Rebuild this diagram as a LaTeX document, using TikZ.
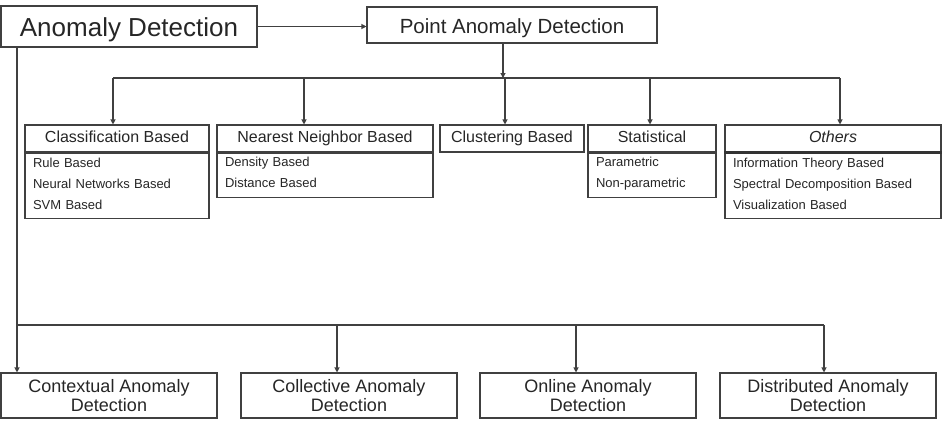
\documentclass[tikz,border=0pt]{standalone}
\usepackage{fontspec}
\setmainfont{Liberation Sans}
\usetikzlibrary{arrows.meta,calc}
\begin{document}
\begin{tikzpicture}[x=1pt,y=-1pt,
  ln/.style={draw=black!75, line width=1.1pt},
  box/.style={ln, rectangle, fill=white, inner sep=0pt, text=black!85, align=center},
  arr/.style={draw=black!75, line width=1.1pt, -{Triangle[length=5pt,width=5pt]}},
  hd/.style={box, font=\fontsize{16}{18}\selectfont, minimum height=27pt, text height=11.5pt, text depth=3.5pt},
  bd/.style={box, font=\fontsize{13}{21}\selectfont, align=left, inner xsep=8pt, text height=9.5pt},
  bt/.style={box, font=\fontsize{18}{19}\selectfont, minimum width=216pt, minimum height=45pt},
]
\fill[white] (0,0) rectangle (942,426);
\useasboundingbox (0,0) rectangle (942,426);

% top boxes
\node[box, font=\fontsize{26}{28}\selectfont, minimum width=256pt, minimum height=41pt, text height=19pt, text depth=0pt] (ad) at (129,26.5) {Anomaly Detection};
\node[box, font=\fontsize{20.5}{22}\selectfont, minimum width=290pt, minimum height=36pt, text height=16pt, text depth=0pt] (pad) at (512,25) {Point Anomaly Detection};

% technique boxes
\node[hd, minimum width=184pt] (cls) at (117,138.5) {Classification Based};
\node[bd, text width=168pt, minimum height=65pt, text depth=45.5pt, anchor=north] (clsb) at (cls.south) {Rule Based\\Neural Networks Based\\SVM Based};

\node[hd, minimum width=216pt] (nn) at (325,138.5) {Nearest Neighbor Based};
\node[bd, text width=200pt, minimum height=44pt, text depth=26.5pt, anchor=north] (nnb) at (nn.south) {Density Based\\Distance Based};

\node[hd, minimum width=144pt] (clu) at (512,138.5) {Clustering Based};

\node[hd, minimum width=128pt] (st) at (652,138.5) {Statistical};
\node[bd, text width=112pt, minimum height=44pt, text depth=26.5pt, anchor=north] (stb) at (st.south) {Parametric\\Non-parametric};

\node[hd, minimum width=216pt, font=\fontsize{16}{18}\selectfont\itshape] (oth) at (833,138.5) {Others};
\node[bd, text width=200pt, minimum height=65pt, text depth=45.5pt, anchor=north] (othb) at (oth.south) {Information Theory Based\\Spectral Decomposition Based\\Visualization Based};
\draw[draw=black!80, line width=2.2pt] (oth.south west) -- (oth.south east);

% bottom boxes
\node[bt] (ctx) at (109,395.5) {Contextual Anomaly\\Detection};
\node[bt] (col) at (349,395.5) {Collective Anomaly\\Detection};
\node[bt] (onl) at (588,395.5) {Online Anomaly\\Detection};
\node[bt] (dis) at (828,395.5) {Distributed Anomaly\\Detection};

% bus coordinates
\coordinate (t1) at (113,78);
\coordinate (t2) at (304,78);
\coordinate (t3) at (505,78);
\coordinate (t4) at (650,78);
\coordinate (t5) at (840,78);
\coordinate (tp) at (503,78);
\coordinate (b1) at (17,325);
\coordinate (b2) at (337,325);
\coordinate (b3) at (576,325);
\coordinate (b4) at (824,325);

% connectors
\draw[arr] (ad.east) -- (ad.east -| pad.west);
\draw[arr] (tp |- pad.south) -- (tp);
\draw[ln] (t1) -- (t5);
\draw[arr] (t1) -- (t1 |- cls.north);
\draw[arr] (t2) -- (t2 |- nn.north);
\draw[arr] (t3) -- (t3 |- clu.north);
\draw[arr] (t4) -- (t4 |- st.north);
\draw[arr] (t5) -- (t5 |- oth.north);

\draw[ln] (b1 |- ad.south) -- (b1);
\draw[ln] (b1) -- (b4);
\draw[arr] (b1) -- (b1 |- ctx.north);
\draw[arr] (b2) -- (b2 |- col.north);
\draw[arr] (b3) -- (b3 |- onl.north);
\draw[arr] (b4) -- (b4 |- dis.north);
\end{tikzpicture}
\end{document}
